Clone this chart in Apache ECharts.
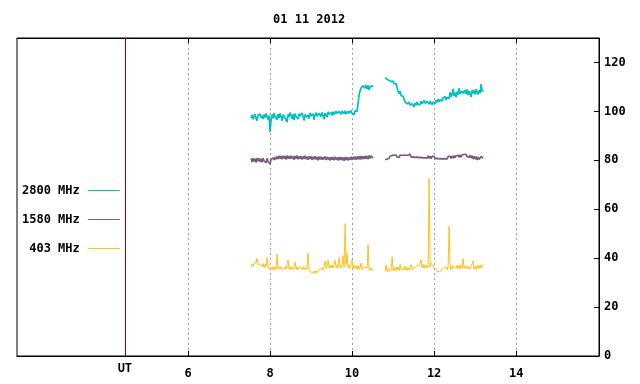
<!DOCTYPE html>
<html><head><meta charset="utf-8">
<script src="https://cdn.jsdelivr.net/npm/echarts@6/dist/echarts.min.js"></script>
<style>html,body{margin:0;padding:0;background:#fff}#c{width:640px;height:384px}</style>
</head><body><div id="c"></div><script>
const titleText = '01 11 2012';
const seriesNames = ['2800 MHz', '1580 MHz', '403 MHz'];
const seriesColors = ['#00c0c0', '#7c5c7e', '#ffc020'];
const xTickValues = [6, 8, 10, 12, 14];
const utPosition = 4.46;
const utLabel = 'UT';
const yTickValues = [0, 20, 40, 60, 80, 100, 120];
const xMin = 1.83, xMax = 16.02, yMin = 0, yMax = 130;

// sampling clock of the two recorded segments (hours UT)
const segAStart = 7.537, segAEnd = 10.512;
const segBStart = 10.805, segBEnd = 13.195;
const gapTime = 10.66;

// 2800 MHz
const f2800A = [
97.2, 98.6, 96.8, 97.9, 98.9, 97.1, 96.2, 98.4, 97.6, 99.0,
97.3, 98.2, 96.9, 98.8, 97.5, 99.1, 97.8, 96.7, 98.3, 91.6,
96.4, 98.7, 97.2, 99.3, 97.9, 98.5, 96.6, 98.9, 97.4, 99.2,
97.8, 96.1, 98.6, 99.4, 97.3, 98.1, 95.6, 98.8, 97.7, 99.5,
98.2, 97.0, 98.9, 96.4, 99.1, 97.8, 98.4, 96.9, 99.0, 98.1,
97.4, 99.3, 98.0, 96.2, 98.7, 99.2, 97.6, 98.5, 97.1, 99.4,
98.3, 97.7, 99.0, 96.5, 98.6, 99.5, 98.0, 97.4, 99.2, 98.4,
97.9, 99.6, 98.2, 96.8, 99.3, 98.5, 97.6, 99.8, 98.9, 98.1,
99.5, 98.3, 99.9, 98.7, 97.9, 100.1, 99.2, 98.6, 100.0, 99.4,
98.8, 100.2, 99.6, 99.0, 100.3, 98.9, 99.7, 100.1, 99.2, 99.8,
100.4, 99.1, 99.9, 98.6, 100.2, 99.5, 100.0, 103.5, 106.8, 108.4,
109.6, 108.9, 110.4, 111.2, 109.5, 110.8, 109.2, 110.6, 108.7, 110.1, 109.4, 110.5, 110.0
];
const f2800B = [
113.8, 114.3, 113.1, 113.9, 112.6, 112.9, 112.2, 111.5, 112.4, 111.3,
110.8, 111.4, 109.6, 108.1, 107.2, 108.3, 106.4, 105.6, 106.2, 104.8,
103.9, 104.6, 103.1, 102.7, 103.8, 102.4, 101.9, 103.2, 102.6, 101.8,
103.4, 102.5, 103.9, 102.8, 103.6, 102.9, 104.2, 103.1, 102.4, 104.5,
103.3, 102.8, 104.1, 103.5, 102.9, 104.3, 103.6, 102.7, 103.8, 104.4,
103.2, 104.6, 103.7, 105.0, 103.9, 104.8, 105.3, 104.2, 105.6, 104.9,
106.0, 104.7, 105.8, 106.4, 105.2, 107.9, 105.9, 106.8, 109.2, 106.3,
107.6, 105.8, 108.1, 106.9, 109.5, 107.2, 106.5, 108.3, 107.4, 106.8,
108.6, 107.1, 109.0, 106.7, 108.2, 107.6, 105.9, 108.8, 107.3, 108.5,
107.0, 109.1, 107.8, 106.9, 108.7, 107.5, 111.2, 108.1, 108.6
];

// 1580 MHz
const f1580A = [
80.8, 79.3, 80.9, 79.5, 80.7, 79.1, 81.0, 79.6, 80.8, 79.4,
80.6, 79.2, 80.9, 79.7, 80.5, 79.0, 80.8, 79.5, 80.3, 78.4,
80.4, 79.6, 81.0, 80.1, 81.3, 80.4, 81.6, 80.5, 81.9, 80.6,
81.8, 80.4, 81.9, 80.7, 81.7, 80.3, 82.0, 80.6, 81.8, 80.5,
81.9, 80.7, 81.6, 80.2, 81.8, 80.6, 82.0, 80.4, 81.7, 80.5,
81.8, 80.3, 81.6, 80.6, 81.9, 80.4, 81.5, 80.2, 81.7, 80.5,
81.6, 80.1, 81.5, 80.4, 81.7, 80.3, 81.4, 80.0, 81.6, 80.3,
81.5, 80.2, 81.3, 80.4, 81.6, 80.1, 81.4, 80.3, 81.2, 79.9,
81.4, 80.2, 81.3, 80.0, 81.5, 80.3, 81.2, 79.9, 81.4, 80.1,
81.3, 80.0, 81.2, 79.8, 81.4, 80.1, 81.3, 79.9, 81.2, 80.2,
81.5, 80.1, 81.4, 80.3, 81.6, 80.2, 81.5, 80.4, 81.7, 80.3,
81.8, 80.4, 81.7, 80.5, 81.9, 80.6, 81.8, 80.4, 82.0, 80.7, 81.9, 82.2, 80.8
];
const f1580B = [
80.2, 81.0, 80.5, 81.3, 80.8, 81.7, 81.0, 82.0, 81.3, 82.1,
81.4, 82.2, 81.3, 82.1, 81.2, 82.2, 81.4, 82.0, 81.3, 82.2,
81.4, 82.1, 81.3, 82.0, 81.5, 82.6, 81.3, 82.0, 81.4, 82.1,
81.2, 82.0, 81.3, 81.9, 81.1, 81.9, 81.2, 81.8, 81.0, 81.8,
81.0, 81.7, 80.9, 81.8, 80.8, 81.7, 80.7, 81.6, 80.8, 81.6,
80.7, 81.5, 80.8, 81.5, 80.6, 81.4, 80.7, 81.5, 80.6, 81.4,
80.7, 81.5, 80.6, 81.6, 80.8, 81.6, 80.7, 81.8, 80.9, 81.9,
81.0, 81.9, 81.1, 82.1, 81.2, 82.2, 81.3, 82.3, 81.5, 82.4,
81.6, 82.5, 81.5, 82.2, 81.2, 82.1, 80.9, 81.9, 80.5, 81.7,
80.4, 81.5, 80.1, 81.4, 80.3, 80.0, 81.6, 82.2, 80.9
];

// 403 MHz
const f403A = [
36.3, 37.5, 36.6, 37.9, 37.2, 38.2, 40.0, 37.4, 38.1, 37.3,
37.8, 36.5, 37.9, 36.2, 37.5, 36.3, 40.3, 36.6, 36.9, 35.0,
36.3, 35.3, 36.6, 35.2, 36.5, 35.6, 41.8, 35.5, 36.4, 35.4,
36.5, 35.5, 36.3, 35.4, 36.6, 35.5, 36.2, 39.3, 35.4, 36.5,
35.3, 36.4, 35.5, 36.5, 38.4, 35.3, 36.6, 35.2, 36.4, 35.6,
36.5, 35.3, 36.4, 35.4, 36.3, 35.3, 36.5, 42.1, 35.1, 35.6,
34.3, 35.0, 33.8, 34.8, 33.7, 34.9, 34.0, 35.0, 34.3, 35.5,
34.7, 36.0, 35.0, 36.4, 38.9, 35.7, 36.6, 39.3, 35.9, 37.2,
35.9, 37.2, 36.0, 37.4, 39.3, 36.1, 37.3, 36.0, 40.3, 37.2,
36.0, 37.4, 41.1, 36.1, 54.1, 37.3, 42.1, 36.0, 37.3, 35.8,
37.1, 39.3, 35.9, 37.2, 35.7, 37.0, 35.4, 36.9, 35.3, 36.2,
38.0, 35.2, 36.1, 35.3, 36.1, 35.3, 36.0, 45.5, 35.1, 36.0, 34.9, 35.8, 34.9
];
const f403B = [
34.6, 37.3, 34.5, 35.8, 34.6, 35.4, 34.9, 40.6, 34.8, 36.1,
34.9, 36.3, 35.0, 36.4, 34.9, 37.5, 35.2, 36.0, 35.3, 36.6,
35.1, 36.4, 34.9, 36.2, 35.0, 36.4, 37.4, 35.1, 36.0, 35.3,
36.3, 35.6, 37.0, 36.2, 37.0, 36.5, 39.3, 36.0, 37.5, 35.9,
37.3, 35.8, 37.1, 36.2, 72.5, 36.3, 37.9, 38.2, 36.8, 37.3,
35.7, 36.0, 34.6, 35.4, 34.6, 35.3, 34.7, 35.8, 35.1, 36.0,
35.2, 36.5, 35.2, 36.6, 53.0, 35.3, 36.8, 35.4, 37.0, 36.1,
36.9, 35.8, 37.2, 35.6, 37.1, 35.7, 37.2, 35.8, 39.8, 35.9,
36.8, 35.7, 36.6, 35.6, 36.5, 35.5, 36.4, 35.6, 38.9, 35.4,
36.7, 35.4, 37.0, 35.7, 37.1, 35.8, 37.4, 36.3, 37.0
];

const FONT = 'DejaVu Sans Mono';
const lineWidths = [1.7, 1.6, 1];

function buildPoints(a, b) {
  const pts = [];
  a.forEach((v, i) => pts.push([segAStart + i * (segAEnd - segAStart) / (a.length - 1), v]));
  pts.push([gapTime, '-']);
  b.forEach((v, i) => pts.push([segBStart + i * (segBEnd - segBStart) / (b.length - 1), v]));
  return pts;
}
const allData = [buildPoints(f2800A, f2800B), buildPoints(f1580A, f1580B), buildPoints(f403A, f403B)];

const chart = echarts.init(document.getElementById('c'), null, {renderer: 'canvas'});
const textBase = {fontFamily: FONT, fontSize: 12, fontWeight: 'bold', color: '#000'};

const series = seriesNames.map((name, k) => ({
  name: name,
  type: 'line',
  data: allData[k],
  showSymbol: false,
  symbol: 'none',
  connectNulls: false,
  animation: false,
  lineStyle: {color: seriesColors[k], width: lineWidths[k]},
  itemStyle: {color: seriesColors[k]},
  z: 3
}));
series[0].markLine = {
  silent: true, symbol: 'none', animation: false,
  label: {show: false},
  lineStyle: {color: '#a00000', type: 'solid', width: 1},
  data: [{xAxis: utPosition}]
};

chart.setOption({
  backgroundColor: '#fff',
  animation: false,
  title: {
    text: titleText, left: 268, top: 9,
    textStyle: textBase
  },
  legend: {
    orient: 'vertical', align: 'right', left: 17, top: 178.5,
    itemWidth: 32, itemHeight: 1, itemGap: 15, icon: 'rect',
    selectedMode: false,
    data: seriesNames,
    textStyle: Object.assign({}, textBase, {lineHeight: 14, padding: [0, 3, 0, 0]})
  },
  grid: {left: 17, right: 41, top: 38, bottom: 28, show: true, borderColor: '#000', borderWidth: 1, containLabel: false},
  xAxis: [{
    type: 'value', min: xMin, max: xMax, position: 'bottom',
    axisLine: {show: true, onZero: false, lineStyle: {color: '#000', width: 1}},
    axisTick: {show: true, inside: true, length: 5, customValues: xTickValues, lineStyle: {color: '#000'}},
    axisLabel: {
      show: true, margin: 7, customValues: [utPosition].concat(xTickValues),
      formatter: v => (Math.abs(v - utPosition) < 1e-6 ? '{ut|' + utLabel + '}' : '{n|' + v + '}'),
      rich: {
        ut: Object.assign({}, textBase),
        n: Object.assign({}, textBase, {padding: [5, 0, 0, 0]})
      },
      ...textBase
    },
    splitLine: {show: true, lineStyle: {color: '#a0a0a0', type: [2, 3], width: 1}}
  }, {
    type: 'value', min: xMin, max: xMax, position: 'top',
    axisLine: {show: true, onZero: false, lineStyle: {color: '#000'}},
    axisTick: {show: true, inside: true, length: 5, customValues: xTickValues, lineStyle: {color: '#000'}},
    axisLabel: {show: false},
    splitLine: {show: false}
  }],
  yAxis: {
    type: 'value', min: yMin, max: yMax, position: 'right',
    axisLine: {show: true, onZero: false, lineStyle: {color: '#000'}},
    axisTick: {show: true, inside: true, length: 5, customValues: yTickValues, lineStyle: {color: '#000'}},
    axisLabel: Object.assign({show: true, margin: 5, customValues: yTickValues}, textBase),
    splitLine: {show: false}
  },
  series: series
});
</script></body></html>
